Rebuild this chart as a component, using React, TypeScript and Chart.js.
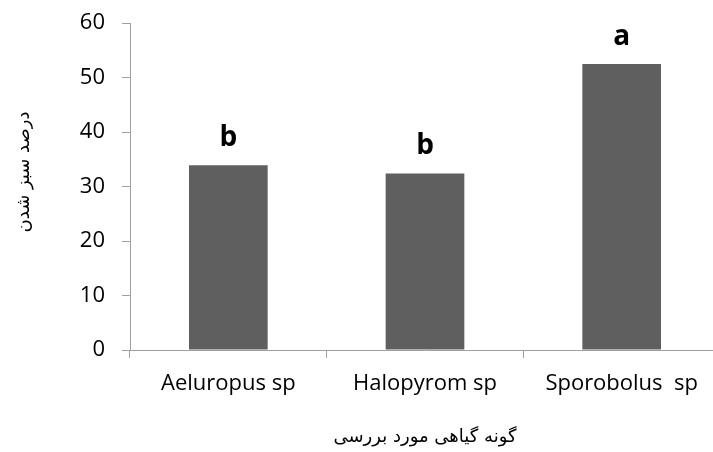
import React, { useEffect, useRef } from "react";
import { Chart, registerables } from "chart.js";

Chart.register(...registerables);

const categories = ["Aeluropus sp", "Halopyrom sp", "Sporobolus  sp"];
const values = [33.9, 32.4, 52.5];
const groupLetters = ["b", "b", "a"];
const yTicks = [0, 10, 20, 30, 40, 50, 60];
const xTitle = "گونه گیاهی مورد بررسی";
const yTitle = "درصد سبز شدن";

const AXIS = "#a0a0a0";
const BAR = "#5f5f5f";

const letterPlugin = {
  id: "letters",
  afterDatasetsDraw(chart: any) {
    const { ctx } = chart;
    const meta = chart.getDatasetMeta(0);
    const y = chart.scales.y;
    ctx.save();
    ctx.font = "bold 28px 'Open Sans'";
    ctx.fillStyle = "#000";
    ctx.textAlign = "center";
    ctx.textBaseline = "alphabetic";
    meta.data.forEach((bar: any, i: number) => {
      const top = y.getPixelForValue(values[i]);
      ctx.fillText(groupLetters[i], bar.x, top - 19);
    });
    // y axis title (rotated), placed like the reference
    ctx.font = "18px 'DejaVu Sans'";
    ctx.translate(24, 172);
    ctx.rotate(-Math.PI / 2);
    ctx.textBaseline = "middle";
    ctx.fillText(yTitle, 0, 0);
    ctx.restore();
  },
};

export default function App() {
  const ref = useRef<HTMLCanvasElement>(null);
  useEffect(() => {
    if (!ref.current) return;
    const chart = new Chart(ref.current, {
      type: "bar",
      data: {
        labels: categories,
        datasets: [
          {
            data: values,
            backgroundColor: BAR,
            borderWidth: 0,
            categoryPercentage: 1,
            barPercentage: 0.4,
          },
        ],
      },
      options: {
        animation: false,
        responsive: false,
        maintainAspectRatio: false,
        layout: { padding: { top: 23, right: 0, left: 0, bottom: 0 } },
        plugins: { legend: { display: false }, tooltip: { enabled: false } },
        scales: {
          x: {
            grid: {
              display: true,
              drawOnChartArea: false,
              drawTicks: true,
              tickLength: 8,
              color: AXIS,
              offset: true,
            },
            border: { display: true, color: AXIS, width: 1 },
            ticks: {
              color: "#000",
              font: { family: "'Open Sans'", size: 22 },
              padding: 13,
              maxRotation: 0,
              autoSkip: false,
            },
            title: {
              display: true,
              text: xTitle,
              color: "#000",
              font: { family: "'DejaVu Sans'", size: 18 },
              padding: { top: 0, bottom: 4 },
            },
            afterFit(scale: any) {
              scale.height = 102;
              scale.paddingLeft = 0;
              scale.paddingRight = 0;
            },
          },
          y: {
            min: 0,
            max: 60,
            afterBuildTicks(scale: any) {
              scale.ticks = yTicks.map((v) => ({ value: v }));
            },
            grid: {
              display: true,
              drawOnChartArea: false,
              drawTicks: true,
              tickLength: 8,
              color: AXIS,
            },
            border: { display: true, color: AXIS, width: 1 },
            ticks: {
              color: "#000",
              font: { family: "'Open Sans'", size: 22 },
              padding: 17,
            },
            title: { display: false },
            afterFit(scale: any) {
              scale.width = 130;
              scale.paddingTop = 0;
              scale.paddingBottom = 0;
            },
          },
        },
      },
      plugins: [letterPlugin],
    });
    return () => chart.destroy();
  }, []);
  return (
    <div style={{ position: "fixed", left: 0, top: 0, width: 720, height: 452, background: "#fff" }}>
      <canvas ref={ref} width={720} height={452} style={{ width: 720, height: 452 }} />
    </div>
  );
}
